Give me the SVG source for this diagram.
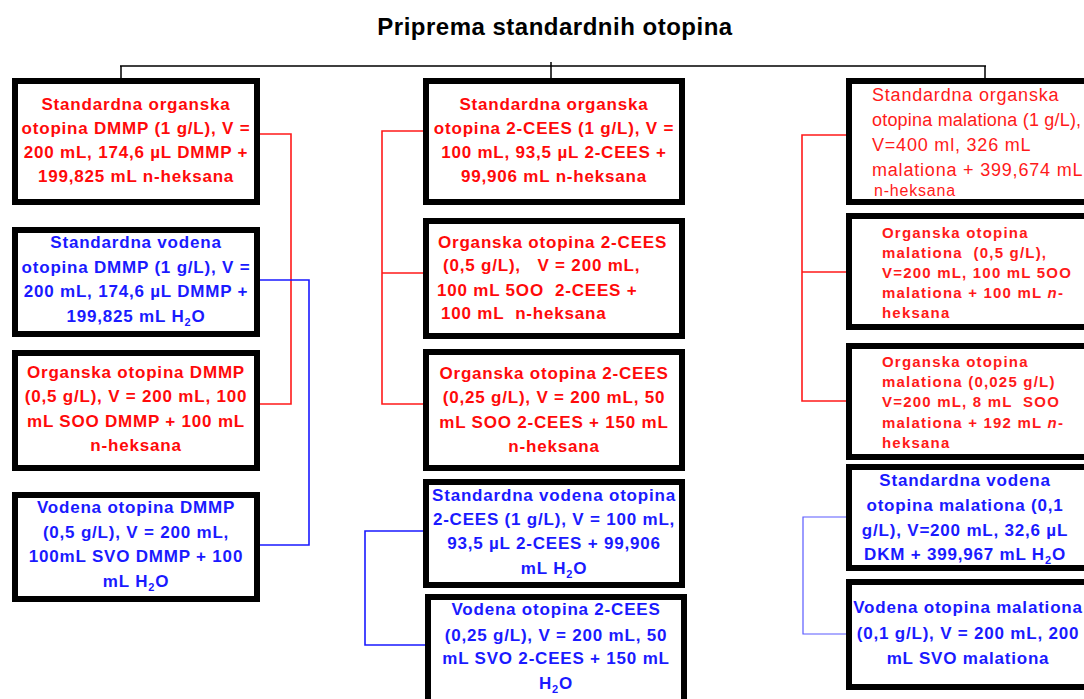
<svg xmlns="http://www.w3.org/2000/svg" width="1084" height="699" viewBox="0 0 1084 699">
<style>
text{font-family:"Liberation Sans",Arial,sans-serif}
.title{font-size:24px;font-weight:bold;fill:#000;letter-spacing:0.5px;text-anchor:middle}
.box{fill:#fff;stroke:#000;stroke-width:6}
.r{fill:#ff0a0a;font-weight:bold;font-size:17px;letter-spacing:0.8px}
.b{fill:#1a1aff;font-weight:bold;font-size:17px;letter-spacing:0.8px}
.c{text-anchor:middle}
.rn{fill:#ff1a1a;font-size:18px;letter-spacing:0.8px}
.rs{fill:#ff1a1a;font-weight:bold;font-size:15px;letter-spacing:1.2px}
.pre{white-space:pre}
.k{stroke:#000;stroke-width:1.5;fill:none}
.cr{stroke:#ff1a1a;stroke-width:1.6;fill:none}
.cb{stroke:#1a1aff;stroke-width:1.6;fill:none}
.cb2{stroke:#5a5aff;stroke-width:1.2;fill:none}
.sub{font-size:11px}
</style>
<rect width="1084" height="699" fill="#fff"/>
<text class="title" x="555" y="35">Priprema standardnih otopina</text>
<g id="connectors">
<path class="k" d="M120 66H986M121 66V78M551 62V78M985 66V78"/>
<path class="cr" d="M260 134H291V404H260"/>
<path class="cb" d="M260 280H309V545H260"/>
<path class="cr" d="M423 131H382V404H423M382 273H423"/>
<path class="cb" d="M423 531H365V645H425"/>
<path class="cr" d="M846 135H802V401H846M802 272H846"/>
<path class="cb2" d="M846 517H803V634H846"/>
</g>
<g id="L1"><rect class="box" x="15" y="81" width="242" height="121"/>
<text class="r c"><tspan x="136" y="110">Standardna organska</tspan><tspan x="136" y="134">otopina DMMP (1 g/L), V =</tspan><tspan x="136" y="158">200 mL, 174,6 µL DMMP +</tspan><tspan x="136" y="182">199,825 mL n-heksana</tspan></text></g>
<g id="L2"><rect class="box" x="15" y="230" width="242" height="104"/>
<text class="b c"><tspan x="136" y="248">Standardna vodena</tspan><tspan x="136" y="273">otopina DMMP (1 g/L), V =</tspan><tspan x="136" y="297">200 mL, 174,6 µL DMMP +</tspan><tspan x="136" y="322">199,825 mL H<tspan class="sub" dy="4">2</tspan><tspan dy="-4">O</tspan></tspan></text></g>
<g id="L3"><rect class="box" x="15" y="353" width="242" height="115"/>
<text class="r c"><tspan x="136" y="378">Organska otopina DMMP</tspan><tspan x="136" y="402">(0,5 g/L), V = 200 mL, 100</tspan><tspan x="136" y="427">mL SOO DMMP + 100 mL</tspan><tspan x="136" y="451">n-heksana</tspan></text></g>
<g id="L4"><rect class="box" x="15" y="495" width="242" height="104"/>
<text class="b c"><tspan x="136" y="513">Vodena otopina DMMP</tspan><tspan x="136" y="538">(0,5 g/L), V = 200 mL,</tspan><tspan x="136" y="562">100mL SVO DMMP + 100</tspan><tspan x="136" y="587">mL H<tspan class="sub" dy="4">2</tspan><tspan dy="-4">O</tspan></tspan></text></g>
<g id="M1"><rect class="box" x="426" y="81" width="256" height="121"/>
<text class="r c"><tspan x="554" y="110">Standardna organska</tspan><tspan x="554" y="134">otopina 2-CEES (1 g/L), V =</tspan><tspan x="554" y="158">100 mL, 93,5 µL 2-CEES +</tspan><tspan x="554" y="182">99,906 mL n-heksana</tspan></text></g>
<g id="M2"><rect class="box" x="426" y="221" width="256" height="115"/>
<text class="r pre"><tspan x="438" y="248">Organska otopina 2-CEES</tspan><tspan x="443" y="271">(0,5 g/L),   V = 200 mL,</tspan><tspan x="437" y="296">100 mL 5OO  2-CEES +</tspan><tspan x="441" y="319">100 mL  n-heksana</tspan></text></g>
<g id="M3"><rect class="box" x="426" y="352" width="256" height="116"/>
<text class="r c"><tspan x="554" y="379">Organska otopina 2-CEES</tspan><tspan x="554" y="403">(0,25 g/L), V = 200 mL, 50</tspan><tspan x="554" y="428">mL SOO 2-CEES + 150 mL</tspan><tspan x="554" y="452">n-heksana</tspan></text></g>
<g id="M4"><rect class="box" x="426" y="482" width="256" height="103"/>
<text class="b c"><tspan x="554" y="501">Standardna vodena otopina</tspan><tspan x="554" y="525">2-CEES (1 g/L), V = 100 mL,</tspan><tspan x="554" y="549">93,5 µL 2-CEES + 99,906</tspan><tspan x="554" y="574">mL H<tspan class="sub" dy="4">2</tspan><tspan dy="-4">O</tspan></tspan></text></g>
<g id="M5"><rect class="box" x="428" y="597" width="256" height="115"/>
<text class="b c"><tspan x="556" y="615">Vodena otopina 2-CEES</tspan><tspan x="556" y="641">(0,25 g/L), V = 200 mL, 50</tspan><tspan x="556" y="664">mL SVO 2-CEES + 150 mL</tspan><tspan x="556" y="689">H<tspan class="sub" dy="4">2</tspan><tspan dy="-4">O</tspan></tspan></text></g>
<g id="R1"><rect class="box" x="849" y="81" width="245" height="121"/>
<text class="rn"><tspan x="872" y="101">Standardna organska</tspan><tspan x="872" y="126" letter-spacing="0.2">otopina malationa (1 g/L),</tspan><tspan x="872" y="151">V=400 ml, 326 mL</tspan><tspan x="872" y="176">malationa + 399,674 mL</tspan><tspan x="874" y="196" font-size="16">n-heksana</tspan></text></g>
<g id="R2"><rect class="box" x="849" y="216" width="245" height="111"/>
<text class="rs pre"><tspan x="882" y="238">Organska otopina</tspan><tspan x="882" y="258">malationa  (0,5 g/L),</tspan><tspan x="882" y="278">V=200 mL, 100 mL 5OO</tspan><tspan x="882" y="298">malationa + 100 mL <tspan font-style="italic">n</tspan>-</tspan><tspan x="882" y="318">heksana</tspan></text></g>
<g id="R3"><rect class="box" x="849" y="346" width="245" height="111"/>
<text class="rs pre"><tspan x="882" y="367">Organska otopina</tspan><tspan x="882" y="387">malationa (0,025 g/L)</tspan><tspan x="882" y="407">V=200 mL, 8 mL  SOO</tspan><tspan x="882" y="428">malationa + 192 mL <tspan font-style="italic">n</tspan>-</tspan><tspan x="882" y="448">heksana</tspan></text></g>
<g id="R4"><rect class="box" x="849" y="467" width="245" height="101"/>
<text class="b c"><tspan x="965" y="486">Standardna vodena</tspan><tspan x="965" y="511">otopina malationa (0,1</tspan><tspan x="965" y="536">g/L), V=200 mL, 32,6 µL</tspan><tspan x="965" y="560">DKM + 399,967 mL H<tspan class="sub" dy="4">2</tspan><tspan dy="-4">O</tspan></tspan></text></g>
<g id="R5"><rect class="box" x="849" y="582" width="245" height="105"/>
<text class="b c"><tspan x="968" y="613">Vodena otopina malationa</tspan><tspan x="968" y="639">(0,1 g/L), V = 200 mL, 200</tspan><tspan x="968" y="664">mL SVO malationa</tspan></text></g>
</svg>
